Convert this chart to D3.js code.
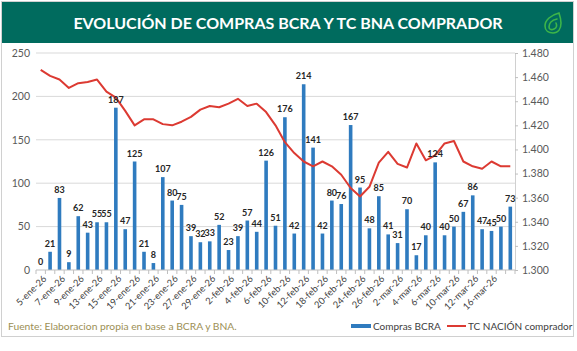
<!DOCTYPE html>
<html>
<head>
<meta charset="utf-8">
<script src="https://cdn.jsdelivr.net/npm/d3@7"></script>
<style>
body { margin: 0; background: #fff; }
svg { display: block; font-family: Lato, "Open Sans", sans-serif; }
</style>
</head>
<body>
<script>
// fechas (dias habiles)
let fechas = ["5-ene-26","6-ene-26","7-ene-26","8-ene-26","9-ene-26","12-ene-26","13-ene-26","14-ene-26","15-ene-26","16-ene-26",
  "19-ene-26","20-ene-26","21-ene-26","22-ene-26","23-ene-26","26-ene-26","27-ene-26","28-ene-26","29-ene-26","30-ene-26",
  "2-feb-26","3-feb-26","4-feb-26","5-feb-26","6-feb-26","9-feb-26","10-feb-26","11-feb-26","12-feb-26","13-feb-26",
  "18-feb-26","19-feb-26","20-feb-26","23-feb-26","24-feb-26","25-feb-26","26-feb-26","27-feb-26",
  "2-mar-26","3-mar-26","4-mar-26","5-mar-26","6-mar-26","9-mar-26","10-mar-26","11-mar-26","12-mar-26","13-mar-26",
  "16-mar-26","17-mar-26","18-mar-26"];

// compras BCRA (millones USD)
let compras = [0,21,83,9,62,43,55,55,187,47,125,21,8,107,80,75,39,32,33,52,23,39,57,44,126,51,176,42,214,141,
  42,80,76,167,95,48,85,41,31,70,17,40,124,40,50,67,86,47,45,50,73];

// TC BNA comprador
let tcBna = [1466,1461,1458,1451,1455,1456,1458,1448,1443,1432,1420,1425,1425,1421,1420,1423,1427,1433,1436,1435,
  1438,1442,1436,1438,1431,1420,1406,1397,1390,1386,1390,1386,1379,1368,1361,1369,1389,1398,1388,1385,
  1405,1391,1395,1405,1407,1390,1386,1384,1390,1386,1386];

let ticksIzq = [0,50,100,150,200,250];
let ticksDer = [1300,1320,1340,1360,1380,1400,1420,1440,1460,1480];

let W = 577, H = 351;
let m = { top: 53, left: 36, bottom: 81, right: 62 },
    w = W - m.left - m.right,
    h = H - m.top - m.bottom;

let svg = d3.select("body").append("svg")
  .attr("width", W)
  .attr("height", H);

// marco
svg.append("rect")
  .attr("x", 1.5).attr("y", 1.5)
  .attr("width", W - 5).attr("height", 335)
  .attr("fill", "#fff")
  .attr("stroke", "#d0d0d0");

// titulo
svg.append("rect")
  .attr("x", 2).attr("y", 2)
  .attr("width", W - 6).attr("height", 41)
  .attr("fill", "#006b5e");

svg.append("text")
  .attr("x", 288).attr("y", 28.5)
  .attr("text-anchor", "middle")
  .attr("fill", "#fff")
  .attr("font-weight", "bold")
  .attr("font-size", 16)
  .text("EVOLUCIÓN DE COMPRAS BCRA Y TC BNA COMPRADOR");

// logo hoja
let logo = svg.append("g")
  .attr("transform", "translate(553,23)")
  .attr("fill", "none")
  .attr("stroke", "#3db549")
  .attr("stroke-width", 1.6)
  .attr("stroke-linecap", "round");
logo.append("path").attr("d", "M6,-10 C-2,-8 -8,-3 -8,3 C-8,8 -4,10 0,10 C5,10 8,6 8,0 C8,-4 7,-7 6,-10 Z");
logo.append("path").attr("d", "M4,-4 C-2,-3 -4,1 -4,4 C-4,7 -1,7 1,6 C4,5 4,2 3,0");

let g = svg.append("g")
  .attr("transform", "translate(" + m.left + "," + m.top + ")");

let tool = {
  x: d3.scaleBand().domain(fechas).range([0, w]),
  y: d3.scaleLinear().domain([0, 250]).range([h, 0]),
  y2: d3.scaleLinear().domain([1300, 1480]).range([h, 0]),
  fmt: d3.formatLocale({ decimal: ",", thousands: ".", grouping: [3], currency: ["$", ""] }).format(",d")
};

// grilla
g.append("g")
  .selectAll("line")
  .data(ticksIzq.filter(d => d > 0))
  .join("line")
  .attr("x1", 0).attr("x2", w)
  .attr("y1", d => tool.y(d)).attr("y2", d => tool.y(d))
  .attr("stroke", "#d9d9d9")
  .attr("stroke-width", 1);

// eje izquierdo
let ejeIzq = g.append("g")
  .call(d3.axisLeft(tool.y).tickValues(ticksIzq).tickSize(0).tickPadding(6));
ejeIzq.select(".domain").remove();
ejeIzq.selectAll("text").attr("fill", "#595959").attr("font-size", 10.5).attr("font-family", "Lato, sans-serif");

// eje derecho
let ejeDer = g.append("g")
  .attr("transform", "translate(" + w + ",0)")
  .call(d3.axisRight(tool.y2).tickValues(ticksDer).tickSize(3).tickPadding(4).tickFormat(tool.fmt));
ejeDer.select(".domain").attr("stroke", "#d0d0d0");
ejeDer.selectAll("line").attr("stroke", "#bfbfbf");
ejeDer.selectAll("text").attr("fill", "#595959").attr("font-size", 10.5).attr("font-family", "Lato, sans-serif");

// barras
let bw = 3.6;
g.append("g")
  .selectAll("rect")
  .data(compras)
  .join("rect")
  .attr("x", (d, i) => tool.x(fechas[i]) + tool.x.bandwidth() / 2 - bw / 2)
  .attr("y", d => tool.y(d))
  .attr("width", bw)
  .attr("height", d => h - tool.y(d))
  .attr("fill", "#2f7bbf");

// eje x
let ejeX = g.append("g")
  .attr("transform", "translate(0," + h + ")");
ejeX.append("line")
  .attr("x1", 0).attr("x2", w)
  .attr("stroke", "#bfbfbf");
ejeX.selectAll(".tk")
  .data(d3.range(fechas.length + 1))
  .join("line")
  .attr("class", "tk")
  .attr("x1", i => i * tool.x.step()).attr("x2", i => i * tool.x.step())
  .attr("y1", 0).attr("y2", 4)
  .attr("stroke", "#bfbfbf");
ejeX.selectAll("text")
  .data(fechas.filter((d, i) => i % 2 === 0 && i < 50))
  .join("text")
  .attr("transform", d => "translate(" + (tool.x(d) + tool.x.bandwidth() / 2 + 4) + ",7) rotate(-45)")
  .attr("text-anchor", "end")
  .attr("dy", "0.35em")
  .attr("fill", "#404040")
  .attr("font-size", 9.3)
  .text(d => d);

// linea TC
let linea = d3.line()
  .x((d, i) => tool.x(fechas[i]) + tool.x.bandwidth() / 2)
  .y(d => tool.y2(d));

g.append("path")
  .datum(tcBna)
  .attr("fill", "none")
  .attr("stroke", "#dc3a32")
  .attr("stroke-width", 2)
  .attr("stroke-linejoin", "round")
  .attr("d", linea);

// etiquetas de datos
g.append("g")
  .selectAll("text")
  .data(compras)
  .join("text")
  .attr("x", (d, i) => tool.x(fechas[i]) + tool.x.bandwidth() / 2)
  .attr("y", d => tool.y(d) - 5)
  .attr("text-anchor", "middle")
  .attr("font-size", 9)
  .attr("font-weight", "bold")
  .attr("fill", "#262626")
  .text(d => d);

// fuente
svg.append("text")
  .attr("x", 8).attr("y", 330)
  .attr("fill", "#9c8f55")
  .attr("font-size", 10.3)
  .text("Fuente: Elaboracion propia en base a BCRA y BNA.");

// leyenda
let ley = svg.append("g").attr("font-size", 10).attr("fill", "#404040");
ley.append("rect").attr("x", 351).attr("y", 324).attr("width", 20).attr("height", 4).attr("fill", "#2f7bbf");
ley.append("text").attr("x", 373).attr("y", 330).text("Compras BCRA");
ley.append("line").attr("x1", 447).attr("x2", 466).attr("y1", 326).attr("y2", 326)
  .attr("stroke", "#dc3a32").attr("stroke-width", 2);
ley.append("text").attr("x", 468).attr("y", 330).text("TC NACIÓN comprador");
</script>
</body>
</html>
